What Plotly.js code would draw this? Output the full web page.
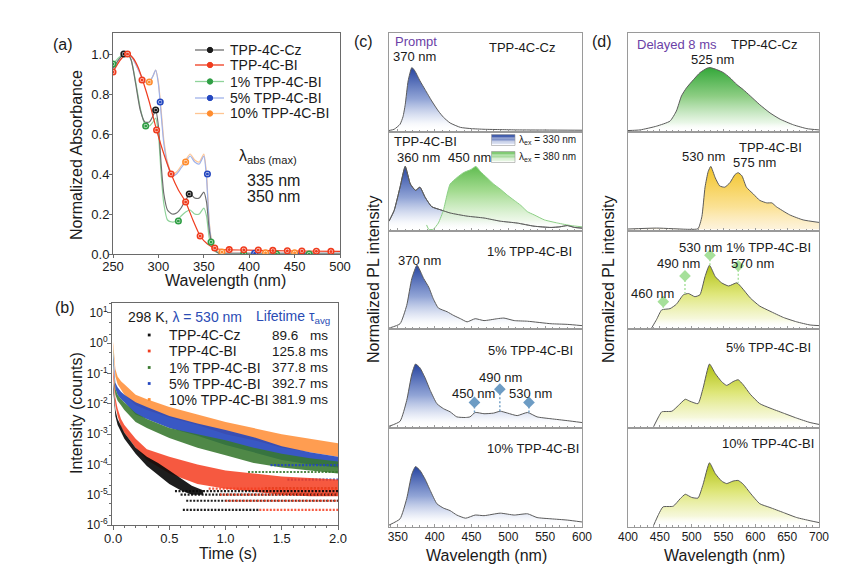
<!DOCTYPE html>
<html><head><meta charset="utf-8">
<script src="https://cdn.plot.ly/plotly-3.0.1.min.js"></script>
<style>html,body{margin:0;padding:0;background:#fff}#chart{width:865px;height:574px}</style>
</head><body><div id="chart"></div>
<script>
// ================= DATA =================
// (a) normalized absorbance
const absX   = [250,256,262,266,270,275,280,285,290,294,297,300,303,306,310,315,320,325,330,335,340,345,350,353,356,359,362,366,370,380,400,450,500];
const absCz  = [0.93,0.97,1.0,1.0,0.97,0.85,0.72,0.66,0.66,0.69,0.72,0.64,0.45,0.30,0.22,0.20,0.205,0.23,0.27,0.30,0.28,0.28,0.31,0.26,0.12,0.05,0.02,0.005,0,0,0,0,0];
const abs1   = [0.95,0.98,1.0,1.0,0.97,0.86,0.73,0.65,0.64,0.66,0.68,0.60,0.40,0.25,0.17,0.16,0.165,0.19,0.21,0.22,0.20,0.20,0.23,0.19,0.08,0.04,0.015,0.005,0,0,0,0,0];
const abs5   = [0.92,0.97,1.0,1.0,0.99,0.95,0.90,0.86,0.86,0.89,0.92,0.85,0.70,0.55,0.45,0.39,0.40,0.43,0.46,0.49,0.46,0.45,0.49,0.38,0.15,0.05,0.02,0.005,0.004,0.004,0.004,0.004,0.004];
const abs10  = [0.92,0.97,1.0,1.0,0.99,0.95,0.90,0.86,0.86,0.89,0.92,0.86,0.72,0.57,0.46,0.40,0.41,0.44,0.47,0.50,0.47,0.46,0.50,0.40,0.16,0.06,0.03,0.012,0.01,0.008,0.006,0.006,0.006];
const absBIX = [250,258,266,272,278,284,290,298,306,314,322,330,338,346,354,362,370,378,400,450,500];
const absBI  = [0.91,0.97,1.0,0.98,0.93,0.85,0.76,0.62,0.50,0.40,0.32,0.26,0.17,0.09,0.05,0.03,0.022,0.021,0.019,0.015,0.013];
const mkCzX = [262,297,334],            mkCzY = [1.0,0.72,0.30];
const mk1X  = [250,286,322,358,394,430,466], mk1Y = [0.95,0.64,0.165,0.06,0,0,0];
const mk5X  = [302,354,406,458],        mk5Y  = [0.76,0.40,0.004,0.004];
const mk10X = [290,330,370,418,450],    mk10Y = [0.86,0.46,0.01,0.006,0.006];
const mkBIX = [250,266,282,298,314,330,346,362,378,394,410,426,442,458,474,490];
const mkBIY = [0.91,1.0,0.87,0.62,0.40,0.26,0.09,0.03,0.022,0.021,0.02,0.018,0.016,0.015,0.014,0.013];
const absNames = ['TPP-4C-Cz','TPP-4C-BI','1% TPP-4C-BI','5% TPP-4C-BI','10% TPP-4C-BI'];

// (b) decay (log10 intensity envelopes of the scattered points)
const tAll = [0,0.01,0.02,0.04,0.07,0.1,0.2,0.3,0.5,0.75,1.0,1.25,1.5,1.75,2.0];
const o10Hi = [0.05,-0.5,-0.85,-1.1,-1.25,-1.35,-1.7,-1.85,-2.1,-2.35,-2.6,-2.8,-3.0,-3.15,-3.3];
const o10Lo = [-0.1,-0.8,-1.1,-1.35,-1.55,-1.7,-2.05,-2.2,-2.45,-2.7,-3.0,-3.2,-3.45,-3.6,-3.75];
const b5Hi  = [-0.35,-1.0,-1.3,-1.45,-1.6,-1.7,-1.95,-2.1,-2.4,-2.65,-2.86,-3.1,-3.4,-3.6,-3.75];
const b5Lo  = [-0.55,-1.2,-1.5,-1.7,-1.85,-1.95,-2.35,-2.5,-2.8,-3.05,-3.36,-3.6,-3.85,-4.0,-4.1];
const g1Hi  = [-0.15,-1.2,-1.5,-1.7,-1.85,-1.95,-2.3,-2.5,-2.8,-3.0,-3.2,-3.45,-3.65,-3.8,-3.9];
const g1Lo  = [-0.35,-1.4,-1.7,-1.9,-2.05,-2.2,-2.6,-2.8,-3.13,-3.45,-3.7,-3.95,-4.1,-4.2,-4.3];
const rBIHi = [-0.8,-1.5,-1.8,-2.15,-2.5,-2.7,-3.15,-3.5,-3.75,-4.0,-4.2,-4.3,-4.4,-4.45,-4.5];
const rBILo = [-1.1,-1.75,-2.05,-2.4,-2.75,-2.95,-3.45,-3.85,-4.3,-4.65,-4.8,-4.9,-5.0,-5.05,-5.05];
const tCz   = [0,0.01,0.02,0.04,0.07,0.1,0.15,0.2,0.3,0.4,0.5,0.6,0.7,0.8];
const czHi  = [-1.3,-1.9,-2.2,-2.5,-2.75,-2.95,-3.2,-3.45,-3.75,-3.95,-4.2,-4.45,-4.7,-4.85];
const czLo  = [-1.5,-2.1,-2.4,-2.7,-2.95,-3.15,-3.4,-3.65,-4.05,-4.35,-4.65,-4.85,-5.0,-5.0];
// count-quantised floor rows: level (log10), start time, end time
const czFloorLv = [-4.88,-5.0,-5.2,-5.5], czFloorT0 = [0.55,0.6,0.65,0.62], czFloorT1 = [2.0,2.0,2.0,1.3];
const biFloorLv = [-4.8,-5.0,-5.2,-5.5],  biFloorT0 = [0.85,0.95,1.0,1.3],  biFloorT1 = [2.0,2.0,2.0,2.0];
const g1FloorLv = [-4.25,-4.78], g1FloorT0 = [1.2,1.35], g1FloorT1 = [2.0,2.0];
const b5FloorLv = [-4.02,-4.5],  b5FloorT0 = [1.4,1.55], b5FloorT1 = [2.0,2.0];
const decayNames = ['TPP-4C-Cz','TPP-4C-BI','1% TPP-4C-BI','5% TPP-4C-BI','10% TPP-4C-BI'];
const lifetimes  = ['89.6','125.8','377.8','392.7','381.9'];
const logTickVals = [1e-6,1e-5,1e-4,1e-3,1e-2,1e-1,1,10];
const logTickText = ['10<sup>-6</sup>','10<sup>-5</sup>','10<sup>-4</sup>','10<sup>-3</sup>','10<sup>-2</sup>','10<sup>-1</sup>','10<sup>0</sup>','10<sup>1</sup>'];

// (c) prompt PL
const c1X = [338,345,353,357,360,364,369,373,380,387,396,405,412,421,435,450,467,490,512,550,600];
const c1Y = [0,0.02,0.1,0.22,0.41,0.79,1.0,0.95,0.79,0.65,0.47,0.31,0.21,0.12,0.05,0.03,0.02,0.015,0.01,0.008,0.005];
const c2X = [338,345,353,360,367,374,380,387,396,408,421,444,467,489,512,535,558,570,580,590,600];
const c2Y = [0.13,0.3,0.67,1.0,0.72,0.62,0.67,0.51,0.36,0.31,0.26,0.21,0.18,0.13,0.10,0.05,0.03,0.04,0.06,0.03,0.02];
const c2gX = [389,392,398,405,412,417,421,430,439,449,456,462,471,480,489,499,508,517,526,535,549,567,585,600];
const c2gY = [0.07,0.0,0.0,0.1,0.31,0.56,0.72,0.82,0.9,0.95,1.0,0.92,0.82,0.72,0.64,0.54,0.46,0.38,0.28,0.23,0.15,0.10,0.06,0.04];
const c3X = [338,353,362,369,376,385,392,398,405,417,426,435,444,455,467,485,494,508,526,558,580,600];
const c3Y = [0,0.07,0.36,0.79,1.0,0.79,0.65,0.47,0.32,0.26,0.2,0.15,0.1,0.15,0.12,0.15,0.16,0.12,0.11,0.07,0.06,0.04];
const c4X = [338,353,362,369,374,380,387,394,403,412,421,430,442,448,455,467,480,489,499,512,526,539,558,580,600];
const c4Y = [0.01,0.09,0.42,0.84,1.0,0.94,0.78,0.58,0.37,0.29,0.24,0.16,0.15,0.16,0.23,0.21,0.22,0.25,0.22,0.18,0.23,0.16,0.13,0.10,0.07];
const c5X = [338,353,362,369,374,380,387,394,403,412,421,430,442,455,467,489,508,526,539,558,580,600];
const c5Y = [0.01,0.11,0.43,0.82,0.94,0.88,0.74,0.56,0.35,0.28,0.24,0.17,0.12,0.17,0.16,0.2,0.17,0.19,0.13,0.11,0.09,0.06];
const c4PkX = [454,488.5,528], c4PkTop = [0.39,0.6,0.39], c4PkBase = [0.23,0.25,0.23];

// (d) delayed PL
const d1X = [400,419,445,466,476,484,492,503,513,524,529,539,550,560,571,581,592,607,623,639,660,681,700];
const d1Y = [0,0.01,0.07,0.15,0.31,0.55,0.68,0.81,0.92,0.99,1.0,0.97,0.92,0.84,0.73,0.65,0.55,0.41,0.28,0.18,0.09,0.03,0.01];
const d2X = [400,445,497,510,516,521,526,530,537,544,552,560,568,573,579,586,597,607,618,626,633,654,675,700];
const d2Y = [0.005,0.02,0.0,0.01,0.2,0.67,0.92,1.0,0.82,0.69,0.67,0.74,0.87,0.9,0.85,0.67,0.56,0.46,0.42,0.42,0.36,0.23,0.15,0.11];
const d3X = [437,445,453,466,476,487,495,505,513,521,528,537,547,558,571,579,592,607,623,644,665,686,700];
const d3Y = [0,0.14,0.29,0.31,0.38,0.53,0.55,0.5,0.53,0.82,1.0,0.82,0.72,0.67,0.72,0.64,0.48,0.35,0.27,0.17,0.1,0.05,0.04];
const d4X = [440,448,453,469,479,490,497,510,518,528,537,547,555,565,573,581,592,607,623,644,665,686,700];
const d4Y = [0,0.16,0.24,0.25,0.34,0.44,0.41,0.37,0.62,1.0,0.85,0.72,0.66,0.72,0.75,0.67,0.52,0.37,0.3,0.22,0.14,0.07,0.04];
const d5X = [440,448,455,471,482,490,500,510,518,528,537,547,555,565,573,581,592,607,623,644,665,686,700];
const d5Y = [0,0.18,0.3,0.31,0.43,0.5,0.45,0.44,0.66,1.0,0.83,0.71,0.67,0.71,0.72,0.66,0.52,0.35,0.29,0.21,0.13,0.08,0.05];
const d3PkX = [455.4,489.5,528.7,573.2], d3PkTop = [0.42,0.83,1.16,0.99], d3PkBase = [0.29,0.55,1.0,0.72];

// ================= LAYOUT HELPERS =================
const W = 865, H = 574;
const FONT = '"Liberation Sans", Arial, sans-serif';
const fx = p => p / W, fy = p => 1 - p / H;
const traces = [];
const annotations = [];
const shapes = [];
function ann(text, x, y, o = {}) {
  annotations.push({text, x: fx(x), y: fy(y), xref: 'paper', yref: 'paper', showarrow: false,
    xanchor: o.xa || 'center', yanchor: 'middle', textangle: o.angle || 0,
    font: {size: o.size || 13, color: o.color || '#1a1a1a', family: FONT}});
}
const pow10 = a => a.map(v => Math.pow(10, v));

// ================= (a) =================
const aCol = {cz: '#1a1a1a', bi: '#f03c1e', g: '#2f9e44', b: '#2447c0', o: '#ff8c2e'};
const aLine = {cz: '#6e6e6e', bi: '#f03c1e', g: '#8fd39a', b: '#9fb2ea', o: '#ffc592'};
function absTrace(x, y, lc, w) {
  traces.push({x, y, type: 'scatter', mode: 'lines', xaxis: 'x', yaxis: 'y', showlegend: false,
    line: {color: lc, width: w, shape: 'spline', smoothing: 0.6}, hoverinfo: 'skip'});
}
function absMk(x, y, c) {
  traces.push({x, y, type: 'scatter', mode: 'markers', xaxis: 'x', yaxis: 'y', showlegend: false,
    marker: {symbol: 'circle', size: 5.5, color: 'rgba(255,255,255,0.9)', line: {color: c, width: 1.6}}});
  traces.push({x, y, type: 'scatter', mode: 'markers', xaxis: 'x', yaxis: 'y', showlegend: false,
    marker: {symbol: 'circle', size: 3, color: c}});
}
absTrace(absX, abs10, aLine.o, 1.2);
absTrace(absX, abs5, aLine.b, 1.2);
absTrace(absX, abs1, aLine.g, 1.2);
absTrace(absX, absCz, aLine.cz, 1.2);
absTrace(absBIX, absBI, aLine.bi, 1.2);
absMk(mk10X, mk10Y, aCol.o); absMk(mk5X, mk5Y, aCol.b); absMk(mk1X, mk1Y, aCol.g);
absMk(mkCzX, mkCzY, aCol.cz); absMk(mkBIX, mkBIY, aCol.bi);

// legend (a)
const aLegCols = [[aLine.cz, aCol.cz], [aLine.bi, aCol.bi], [aLine.g, aCol.g], [aLine.b, aCol.b], [aLine.o, aCol.o]];
const aLegY = [50, 65, 81.5, 98, 113.5];
absNames.forEach((n, i) => {
  const y = aLegY[i];
  shapes.push({type: 'line', xref: 'paper', yref: 'paper', x0: fx(195), x1: fx(224), y0: fy(y), y1: fy(y),
    line: {color: aLegCols[i][0], width: 1.3}});
  shapes.push({type: 'circle', xref: 'paper', yref: 'paper', x0: fx(207.3), x1: fx(212.7), y0: fy(y + 2.7), y1: fy(y - 2.7),
    fillcolor: aLegCols[i][1], line: {color: aLegCols[i][1], width: 1}});
  ann(n, 228, y, {xa: 'left', size: 14});
});
ann('λ<sub>abs (max)</sub>', 268, 157, {size: 16});
ann('335 nm', 273, 180, {size: 16});
ann('350 nm', 273, 197, {size: 16});

// ================= (b) =================
function band(t, hi, lo, col) {
  traces.push({x: t, y: pow10(hi), type: 'scatter', mode: 'lines', xaxis: 'x2', yaxis: 'y2', showlegend: false,
    line: {width: 0, color: col}, hoverinfo: 'skip'});
  traces.push({x: t, y: pow10(lo), type: 'scatter', mode: 'lines', xaxis: 'x2', yaxis: 'y2', showlegend: false,
    fill: 'tonexty', fillcolor: col, line: {width: 0, color: col}, hoverinfo: 'skip'});
}
function floors(lv, t0, t1, col) {
  const xs = [], ys = [];
  lv.forEach((l, i) => { xs.push(t0[i], t1[i], null); ys.push(Math.pow(10, l), Math.pow(10, l), null); });
  traces.push({x: xs, y: ys, type: 'scatter', mode: 'lines', xaxis: 'x2', yaxis: 'y2', showlegend: false,
    line: {color: col, width: 2.2, dash: '2px,1.5px'}, hoverinfo: 'skip'});
}
const bCol = {o: 'rgba(255,140,50,0.85)', b: 'rgba(35,70,190,0.9)', g: 'rgba(55,120,45,0.88)', r: 'rgba(245,60,30,0.85)', k: 'rgba(10,10,10,0.92)'};
band(tAll, o10Hi, o10Lo, bCol.o);
band(tAll, b5Hi, b5Lo, bCol.b);
band(tAll, g1Hi, g1Lo, bCol.g);
floors(b5FloorLv, b5FloorT0, b5FloorT1, bCol.b);
floors(g1FloorLv, g1FloorT0, g1FloorT1, bCol.g);
band(tAll, rBIHi, rBILo, bCol.r);
band(tCz, czHi, czLo, bCol.k);
floors(czFloorLv, czFloorT0, czFloorT1, bCol.k);
floors(biFloorLv, biFloorT0, biFloorT1, bCol.r);

const BLUE_T = '#2a4cb4';
ann('298 K, <span style="color:' + BLUE_T + '">λ = 530 nm</span>', 185, 317, {size: 14});
ann('<span style="color:' + BLUE_T + '">Lifetime τ<sub>avg</sub></span>', 293, 317, {size: 14});
const bLegY = [335, 351, 367.5, 383.5, 399.5];
const bLegC = ['#111', '#f03c1e', '#3a7a30', '#2447c0', '#ff8c2e'];
decayNames.forEach((n, i) => {
  const y = bLegY[i];
  shapes.push({type: 'rect', xref: 'paper', yref: 'paper', x0: fx(147.8), x1: fx(150.6), y0: fy(y + 1.4), y1: fy(y - 1.4),
    fillcolor: bLegC[i], line: {width: 0}});
  ann(n, 167, y, {xa: 'left', size: 14});
  ann(lifetimes[i], 270, y, {xa: 'left', size: 13.5});
  ann('ms', 307.5, y, {xa: 'left', size: 13.5});
});

// ================= (c) & (d) =================
const rowB = [33, 131.8, 230.6, 329.4, 428.2, 527];
function gradFill(stops) { return {type: 'vertical', colorscale: stops}; }
const gBlue = [[0, 'rgba(255,255,255,0)'], [0.12, 'rgba(240,243,250,0.7)'], [0.5, 'rgba(140,160,212,0.95)'], [1, 'rgba(38,68,160,1)']];
const gGreenC = [[0, 'rgba(255,255,255,0)'], [0.15, 'rgba(232,246,226,0.8)'], [0.6, 'rgba(160,218,140,0.95)'], [1, 'rgba(96,188,80,1)']];
const gGreenD = [[0, 'rgba(255,255,255,0)'], [0.12, 'rgba(232,246,230,0.9)'], [0.55, 'rgba(140,205,130,1)'], [1, 'rgba(52,168,58,1)']];
const gYellow = [[0, 'rgba(253,238,205,0.7)'], [0.35, 'rgba(251,226,150,1)'], [1, 'rgba(242,196,40,1)']];
const gYG = [[0, 'rgba(255,255,255,0)'], [0.15, 'rgba(245,247,215,0.9)'], [0.55, 'rgba(222,230,120,1)'], [1, 'rgba(176,192,18,1)']];
function pl(x, y, ax, grad, lc) {
  traces.push({x, y, type: 'scatter', mode: 'lines', xaxis: 'x' + ax, yaxis: 'y' + ax, showlegend: false,
    fill: 'tozeroy', fillgradient: gradFill(grad), line: {color: lc || '#5a5a5a', width: 1, shape: 'spline', smoothing: 0.5},
    hoverinfo: 'skip'});
}
function peakMarks(px, top, base, ax, col) {
  const xs = [], ys = [];
  px.forEach((p, i) => { xs.push(p, p, null); ys.push(top[i], base[i], null); });
  traces.push({x: xs, y: ys, type: 'scatter', mode: 'lines', xaxis: 'x' + ax, yaxis: 'y' + ax, showlegend: false,
    line: {color: col, width: 1.4, dash: '2px,2px'}, hoverinfo: 'skip'});
  traces.push({x: px, y: top, type: 'scatter', mode: 'markers', xaxis: 'x' + ax, yaxis: 'y' + ax, showlegend: false,
    marker: {symbol: 'diamond', size: 9, color: col}, hoverinfo: 'skip'});
}
// (c)
pl(c1X, c1Y, 3, gBlue);
pl(c2X, c2Y, 4, gBlue);
pl(c2gX, c2gY, 4, gGreenC, '#8ccf86');
traces.push({x: c2X, y: c2Y, type: 'scatter', mode: 'lines', xaxis: 'x4', yaxis: 'y4', showlegend: false,
  line: {color: '#5a5a5a', width: 1, shape: 'spline', smoothing: 0.5}, hoverinfo: 'skip'});
pl(c3X, c3Y, 5, gBlue);
pl(c4X, c4Y, 6, gBlue);
pl(c5X, c5Y, 7, gBlue);
peakMarks(c4PkX, c4PkTop, c4PkBase, 6, '#6d9cc4');
// (d)
pl(d1X, d1Y, 8, gGreenD);
pl(d2X, d2Y, 9, gYellow);
pl(d3X, d3Y, 10, gYG);
pl(d4X, d4Y, 11, gYG);
pl(d5X, d5Y, 12, gYG);
peakMarks(d3PkX, d3PkTop, d3PkBase, 10, '#a6e09a');

// (c) texts
const PURPLE = '#6b3fa6';
ann('Prompt', 393, 42, {xa: 'left', size: 13, color: PURPLE});
ann('TPP-4C-Cz', 522, 48, {size: 13});
ann('370 nm', 414, 57, {size: 13});
ann('TPP-4C-BI', 392, 142, {xa: 'left', size: 13});
ann('360 nm', 418, 157.5, {size: 13});
ann('450 nm', 470, 157.5, {size: 13});
ann('1% TPP-4C-BI', 529, 252, {size: 13});
ann('370 nm', 419, 260, {size: 13});
ann('5% TPP-4C-BI', 530, 350, {size: 13});
ann('450 nm', 474, 393, {size: 13});
ann('490 nm', 500, 377.5, {size: 13});
ann('530 nm', 530, 393, {size: 13});
ann('10% TPP-4C-BI', 533, 448.5, {size: 13});
// (c) gradient legend boxes
function gradBox(x0, x1, y0, y1, c0, c1, n) {
  for (let i = 0; i < n; i++) {
    const f = i / (n - 1);
    const c = c0.map((v, k) => Math.round(v + (c1[k] - v) * f));
    shapes.push({type: 'rect', xref: 'paper', yref: 'paper', x0: fx(x0), x1: fx(x1),
      y0: fy(y0 + (y1 - y0) * i / n), y1: fy(y0 + (y1 - y0) * (i + 1) / n),
      fillcolor: 'rgb(' + c.join(',') + ')', line: {width: 0}});
  }
  shapes.push({type: 'rect', xref: 'paper', yref: 'paper', x0: fx(x0), x1: fx(x1), y0: fy(y0), y1: fy(y1),
    line: {color: '#9a9a9a', width: 0.6}});
}
gradBox(491.5, 515, 134.5, 145.5, [40, 70, 160], [248, 250, 255], 8);
gradBox(491.5, 515, 151.5, 162.5, [110, 195, 95], [248, 253, 246], 8);
ann('λ<sub>ex</sub> = 330 nm', 517, 140, {xa: 'left', size: 10});
ann('λ<sub>ex</sub> = 380 nm', 517, 157, {xa: 'left', size: 10});

// (d) texts
ann('Delayed 8 ms', 635, 44, {xa: 'left', size: 13, color: PURPLE});
ann('TPP-4C-Cz', 764, 44, {size: 13});
ann('525 nm', 712, 59.5, {size: 13});
ann('TPP-4C-BI', 770, 147, {size: 13});
ann('530 nm', 703, 157, {size: 13});
ann('575 nm', 754, 162, {size: 13});
ann('530 nm', 700, 247, {size: 13});
ann('1% TPP-4C-BI', 768, 247, {size: 13});
ann('490 nm', 678, 263.5, {size: 13});
ann('570 nm', 752, 263.5, {size: 13});
ann('460 nm', 652, 293.5, {size: 13});
ann('5% TPP-4C-BI', 768, 347.5, {size: 13});
ann('10% TPP-4C-BI', 768, 443.5, {size: 13});

// panel letters & axis titles
ann('(a)', 63, 44, {size: 16});
ann('(b)', 65, 307, {size: 16});
ann('(c)', 363, 42, {size: 16});
ann('(d)', 602, 42, {size: 16});
ann('Normalized Absorbance', 76, 155, {size: 16, angle: -90});
ann('Wavelength (nm)', 226, 280, {size: 16});
ann('Intensity (counts)', 76, 413, {size: 16, angle: -90});
ann('Time (s)', 228, 553, {size: 16});
ann('Normalized PL intensity', 373, 280, {size: 16, angle: -90});
ann('Wavelength (nm)', 486, 555, {size: 16});
ann('Normalized PL intensity', 608, 280, {size: 16, angle: -90});
ann('Wavelength (nm)', 724, 555, {size: 16});

// ================= AXES =================
const abAxis = {showline: true, mirror: true, linecolor: '#6a6a6a', linewidth: 1, tickcolor: '#6a6a6a',
  showgrid: false, zeroline: false, ticklabelstandoff: -3};
const layout = {
  width: W, height: H, margin: {l: 0, r: 0, t: 0, b: 0}, paper_bgcolor: '#fff', plot_bgcolor: 'rgba(0,0,0,0)',
  showlegend: false, font: {family: FONT, color: '#1a1a1a'},
  annotations, shapes,
  xaxis: Object.assign({}, abAxis, {domain: [fx(113), fx(340)], anchor: 'y', range: [250, 500], dtick: 50,
    ticks: 'outside', ticklen: 3, tickfont: {size: 13}}),
  yaxis: Object.assign({}, abAxis, {domain: [fy(254), fy(33)], anchor: 'x', range: [0, 1.105], dtick: 0.2, tickformat: '.1f',
    ticks: 'outside', ticklen: 3, tickfont: {size: 13}}),
  xaxis2: Object.assign({}, abAxis, {domain: [fx(112), fx(338)], anchor: 'y2', range: [-0.01, 2.0], dtick: 0.5, tick0: 0,
    tickformat: '.1f', ticks: 'outside', ticklen: 4,
    minor: {ticks: 'outside', ticklen: 2, dtick: 0.1, tickcolor: '#6a6a6a'}, tickfont: {size: 13}}),
  yaxis2: Object.assign({}, abAxis, {domain: [fy(525), fy(303)], anchor: 'x2', type: 'log', range: [-6, 1.33],
    tickvals: logTickVals, ticktext: logTickText,
    ticks: 'outside', ticklen: 4, minor: {ticks: 'outside', ticklen: 2, dtick: 'D2', tickcolor: '#6a6a6a'},
    tickfont: {size: 12}})
};
for (let i = 0; i < 10; i++) {
  const ax = 3 + i;
  const isC = i < 5, row = i % 5;
  const dom = [fy(rowB[row + 1]), fy(rowB[row])];
  layout['xaxis' + ax] = {domain: isC ? [fx(389), fx(582)] : [fx(628), fx(819)], anchor: 'y' + ax,
    range: isC ? [338, 600] : [400, 700], dtick: 50, tick0: 350, ticks: 'inside', ticklen: 3,
    minor: {ticks: 'inside', ticklen: 2, dtick: 10, tickcolor: '#9a9a9a'},
    showticklabels: row === 4, showline: true, mirror: true, linecolor: '#9a9a9a', linewidth: 1, tickcolor: '#9a9a9a',
    showgrid: false, zeroline: false, tickfont: {size: 12}, ticklabelstandoff: -1};
  layout['yaxis' + ax] = {domain: dom, anchor: 'x' + ax, range: [-0.02, 1.55], showticklabels: false, ticks: '',
    showline: true, mirror: true, linecolor: '#9a9a9a', linewidth: 1, showgrid: false, zeroline: false};
}

Plotly.newPlot('chart', traces, layout, {staticPlot: true, displayModeBar: false});
</script>
</body></html>
